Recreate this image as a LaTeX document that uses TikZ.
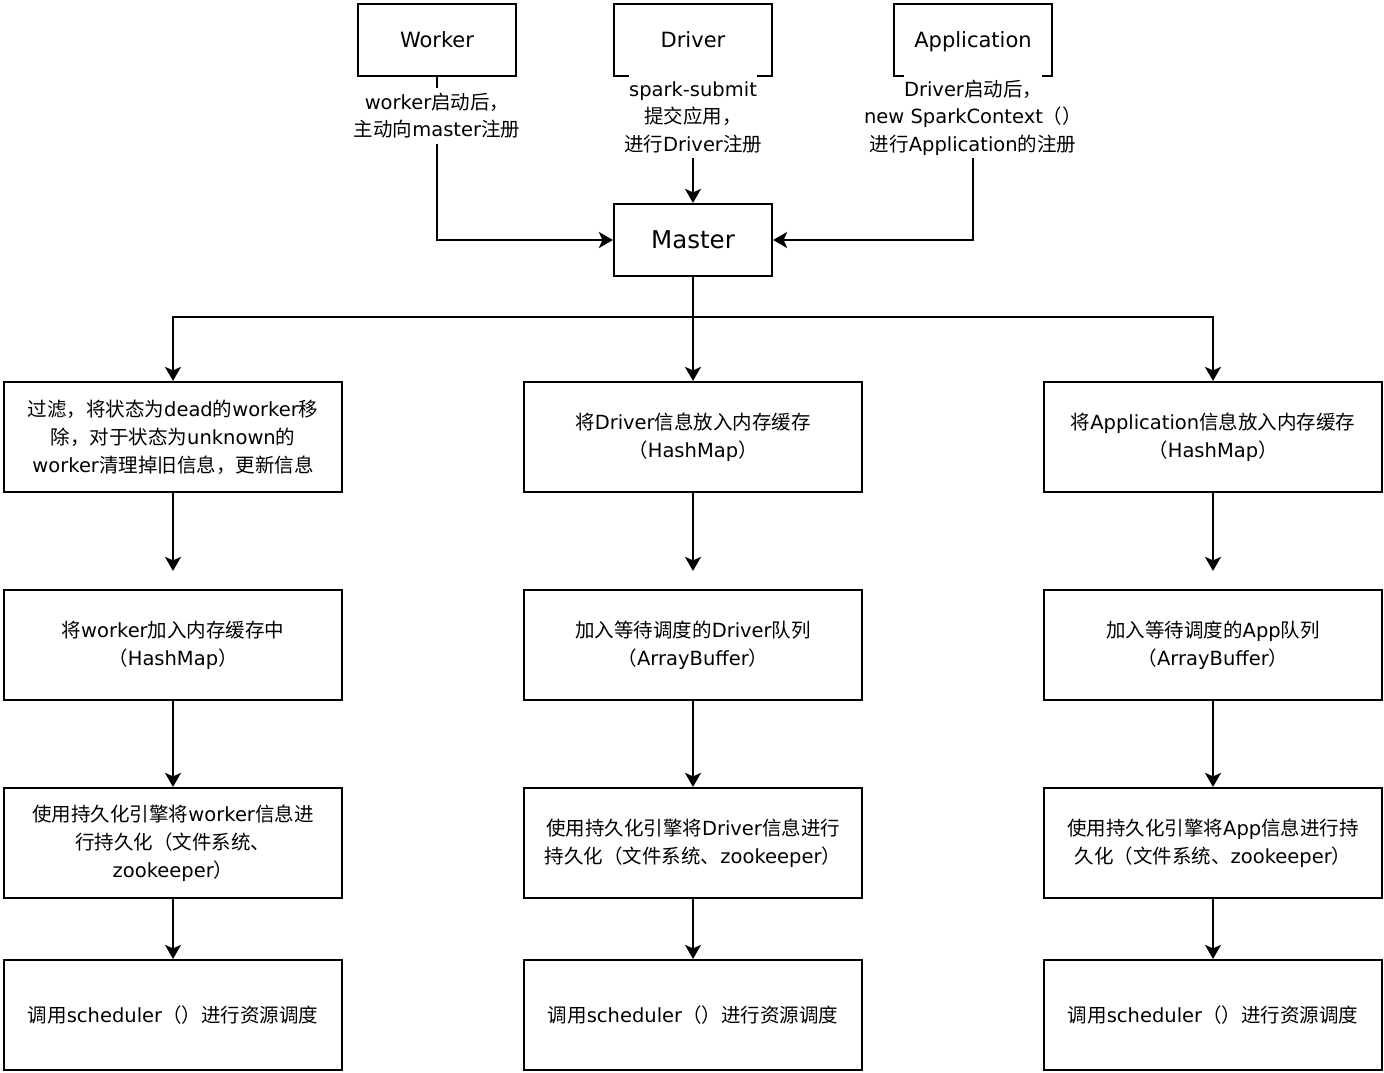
\documentclass[tikz,border=0pt]{standalone}
\usepackage{fontspec}
\setmainfont{DejaVu Sans}
\newfontfamily\cjkfont{Noto Sans CJK SC}
\usetikzlibrary{arrows.meta}
\newcommand\zh[1]{{\cjkfont #1}}
% first line of an edge label: white backing that masks the box edge above it
\newcommand\maskline[1]{{\setlength\fboxsep{0pt}\colorbox{white}{\rule[-6pt]{0pt}{30pt}#1}}}
\newcommand\topstrut{\rule{0pt}{21pt}}

\tikzset{
  stage/.style={draw, line width=2.2pt, minimum width=338pt, minimum height=110pt,
    inner sep=0pt, align=center, font=\fontsize{19.5}{28}\selectfont},
  role/.style={draw, line width=2.2pt, minimum width=158pt, minimum height=72pt,
    inner sep=0pt, text height=15.3pt, text depth=0pt, font=\fontsize{21}{25}\selectfont},
  hub/.style={role, text height=17.9pt, font=\fontsize{24.5}{28}\selectfont},
  edgelabel/.style={anchor=north, inner sep=0pt, align=center,
    font=\fontsize{19.5}{27.5}\selectfont},
  conn/.style={line width=2.2pt},
  arr/.style={conn, -{Stealth[length=14pt, width=16pt, inset=3.5pt]}},
}

\begin{document}
\begin{tikzpicture}[x=1pt, y=-1pt]
  \fill[white] (0,0) rectangle (1384,1072);
  \useasboundingbox (0,0) rectangle (1384,1072);

  % sources registering with the master
  \node[role] (worker) at (437,40) {Worker};
  \node[role] (driver) at (693,40) {Driver};
  \node[role] (app)    at (973,40) {Application};
  \node[hub]  (master) at (693,240) {Master};

  \node[edgelabel] (wlabel) at (437,88)
    {\topstrut worker\zh{启动后，}\\\zh{主动向}master\zh{注册}};
  \node[edgelabel] (dlabel) at (693,72)
    {\maskline{spark-submit}\\\zh{提交应用，}\\\zh{进行}Driver\zh{注册}};
  \node[edgelabel] (alabel) at (973,72)
    {\maskline{Driver\zh{启动后，}}\\new SparkContext\zh{（）}\\\zh{进行}Application\zh{的注册}};

  \draw[conn] (worker.south) -- (wlabel.north);
  \draw[arr, shorten <=5pt] (wlabel.south) |- (master.west);
  \draw[arr, shorten <=5pt] (dlabel.south) -- (master.north);
  \draw[arr, shorten <=3pt] (alabel.south) |- (master.east);

  % worker branch
  \node[stage] (w1) at (173,437)
    {\zh{过滤，将状态为}dead\zh{的}worker\zh{移}\\\zh{除，对于状态为}unknown\zh{的}\\worker\zh{清理掉旧信息，更新信息}};
  \node[stage] (w2) at (173,645) {\zh{将}worker\zh{加入内存缓存中}\\\zh{（}HashMap\zh{）}};
  \node[stage] (w3) at (173,843)
    {\zh{使用持久化引擎将}worker\zh{信息进}\\\zh{行持久化（文件系统、}\\zookeeper\zh{）}};
  \node[stage] (w4) at (173,1015) {\zh{调用}scheduler\zh{（）进行资源调度}};

  % driver branch
  \node[stage] (d1) at (693,437) {\zh{将}Driver\zh{信息放入内存缓存}\\\zh{（}HashMap\zh{）}};
  \node[stage] (d2) at (693,645) {\zh{加入等待调度的}Driver\zh{队列}\\\zh{（}ArrayBuffer\zh{）}};
  \node[stage] (d3) at (693,843)
    {\zh{使用持久化引擎将}Driver\zh{信息进行}\\\zh{持久化（文件系统、}zookeeper\zh{）}};
  \node[stage] (d4) at (693,1015) {\zh{调用}scheduler\zh{（）进行资源调度}};

  % application branch
  \node[stage] (a1) at (1213,437) {\zh{将}Application\zh{信息放入内存缓存}\\\zh{（}HashMap\zh{）}};
  \node[stage] (a2) at (1213,645) {\zh{加入等待调度的}App\zh{队列}\\\zh{（}ArrayBuffer\zh{）}};
  \node[stage] (a3) at (1213,843)
    {\zh{使用持久化引擎将}App\zh{信息进行持}\\\zh{久化（文件系统、}zookeeper\zh{）}};
  \node[stage] (a4) at (1213,1015) {\zh{调用}scheduler\zh{（）进行资源调度}};

  % fan-out from the master
  \coordinate (bus) at (693,317);
  \draw[arr] (master.south) -- (d1.north);
  \draw[arr] (bus) -| (w1.north);
  \draw[arr] (bus) -| (a1.north);

  % flow down each branch
  \foreach \c in {w,d,a} {
    \draw[arr, shorten >=18pt] (\c1.south) -- (\c2.north);
    \draw[arr] (\c2.south) -- (\c3.north);
    \draw[arr] (\c3.south) -- (\c4.north);
  }
\end{tikzpicture}
\end{document}
